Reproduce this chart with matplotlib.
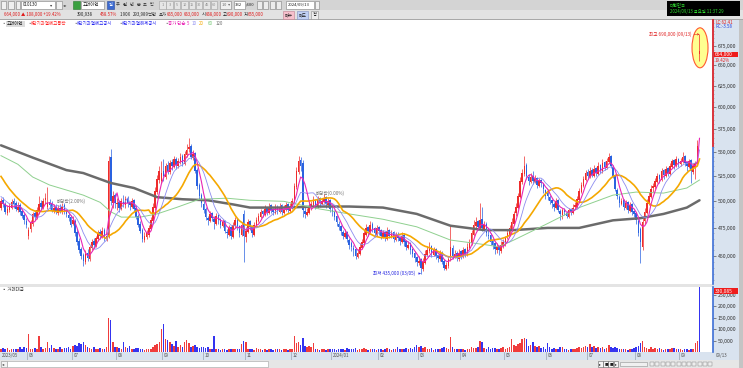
import numpy as np
import pandas as pd
import matplotlib
matplotlib.use("Agg")
import matplotlib.pyplot as plt
from matplotlib.patches import Rectangle, Ellipse
from matplotlib.ticker import FixedLocator, NullFormatter, FuncFormatter
from matplotlib.transforms import IdentityTransform

plt.rcParams['font.family'] = ['Noto Sans CJK KR', 'DejaVu Sans']

W, H = 743, 368

# 고려아연 일봉 (가격 단위: 천원)
# 화면 시작 전 19일 종가 (이동평균 계산용)
pre_close = [560, 558, 552, 555, 548, 545, 540, 536, 530, 522,
             515, 512, 508, 510, 505, 502, 498, 500, 496]

opens = [
    # 2023/05
    494, 501, 497, 489, 492, 494, 500, 498, 492, 496, 491, 487, 481,
    # 06
    468, 474, 479, 489, 484, 490, 498, 494, 501, 495, 499, 497, 491, 495, 489, 494, 490, 496, 491, 487, 485,
    # 07
    479, 481, 471, 463, 456, 451, 445, 453, 447, 457, 463, 459, 465, 471, 467, 473, 465, 468, 545, 498, 506,
    # 08
    497, 499, 493, 499, 496, 503, 499, 495, 501, 494, 486, 479, 473, 464, 467, 469, 474, 481, 494, 509, 521, 520,
    # 09
    530, 524, 536, 529, 539, 534, 543, 535, 539, 546, 537, 547, 553, 556, 544, 549, 531, 516, 506,
    # 10
    497, 493, 484, 481, 489, 483, 479, 487, 483, 477, 481, 471, 469, 476, 467, 477, 483, 477, 469, 488,
    # 11
    467, 471, 481, 477, 469, 477, 481, 485, 491, 487, 494, 489, 496, 493, 489, 495, 490, 496, 489, 492, 497, 491,
    # 12
    494, 499, 514, 529, 541, 538, 491, 487, 489, 494, 496, 501, 495, 503, 497, 499, 504, 496, 501,
    # 2024/01
    492, 491, 486, 479, 477, 471, 467, 471, 464, 461, 457, 456, 449, 452, 457, 461, 469, 476, 471, 479, 475, 469,
    # 02
    476, 473, 467, 471, 465, 473, 467, 471, 464, 469, 467, 462, 469, 463, 457, 461, 456, 453, 449,
    # 03
    444, 447, 439, 444, 451, 454, 459, 451, 456, 451, 447, 453, 446, 439, 441, 448, 457, 449, 453, 447,
    # 04
    454, 449, 456, 451, 457, 461, 469, 477, 481, 475, 483, 474, 479, 469, 469, 463, 461, 455, 459, 454, 459,
    # 05
    461, 467, 469, 474, 479, 489, 494, 504, 519, 527, 536, 524, 519, 525, 519, 523, 515, 521, 517, 511,
    # 06
    508, 504, 501, 497, 494, 501, 491, 487, 493, 489, 485, 493, 489, 495, 495, 501, 509, 515, 521,
    # 07
    529, 524, 531, 525, 533, 527, 536, 529, 539, 533, 539, 546, 534, 526, 511, 504, 497, 501, 494, 499, 491, 497, 491,
    # 08
    489, 481, 474, 458, 481, 489, 497, 504, 513, 514, 519, 526, 521, 531, 525, 533, 527, 534, 541, 535, 543,
    # 09
    537, 539, 546, 539, 534, 541, 529, 534, 537, 668,
]

highs = [
    503, 504, 499, 496, 498, 502, 503, 500, 499, 498, 493, 489, 484,
    476, 482, 490, 492, 495, 505, 501, 503, 508, 514, 502, 500, 497, 497, 496, 497, 498, 498, 493, 490, 487,
    486, 483, 474, 466, 458, 453, 455, 456, 460, 465, 466, 468, 473, 474, 476, 475, 471, 546, 553, 510, 508,
    503, 501, 503, 506, 505, 505, 500, 503, 502, 496, 488, 481, 475, 471, 473, 478, 485, 498, 514, 526, 535, 540,
    542, 538, 540, 541, 542, 546, 545, 544, 549, 548, 551, 558, 565, 558, 552, 550, 533, 518, 508,
    500, 495, 486, 491, 490, 486, 489, 488, 484, 483, 482, 474, 478, 477, 480, 485, 484, 478, 480, 492,
    476, 483, 482, 478, 480, 485, 489, 493, 492, 496, 495, 498, 497, 494, 497, 496, 498, 497, 496, 499, 498, 498,
    503, 518, 534, 546, 545, 541, 495, 494, 499, 500, 505, 502, 505, 504, 503, 507, 505, 503, 502,
    495, 492, 487, 481, 478, 473, 474, 472, 466, 463, 460, 457, 456, 461, 465, 473, 479, 477, 481, 480, 476, 478,
    477, 474, 473, 472, 476, 474, 473, 472, 471, 471, 468, 471, 470, 464, 463, 462, 457, 454, 450,
    450, 448, 448, 455, 459, 462, 460, 458, 457, 452, 455, 454, 447, 445, 450, 478, 460, 455, 454, 456,
    455, 458, 457, 461, 465, 473, 482, 485, 482, 498, 495, 481, 480, 473, 470, 464, 462, 461, 460, 463, 465,
    468, 473, 478, 484, 491, 498, 508, 524, 532, 546, 538, 527, 528, 530, 526, 524, 523, 522, 518, 512,
    512, 506, 502, 499, 503, 502, 493, 494, 494, 491, 494, 494, 497, 499, 505, 513, 519, 525, 531,
    532, 534, 533, 536, 534, 539, 537, 542, 540, 544, 549, 547, 536, 527, 513, 506, 503, 502, 501, 500, 499, 498, 492,
    490, 483, 476, 484, 494, 502, 509, 516, 518, 523, 528, 527, 533, 532, 535, 534, 538, 543, 542, 546, 544,
    544, 550, 547, 540, 543, 542, 538, 540, 563, 690,
]

lows = [
    492, 495, 488, 487, 490, 493, 494, 491, 490, 487, 484, 479, 475,
    465, 471, 477, 482, 483, 488, 492, 493, 497, 493, 493, 490, 489, 488, 487, 489, 488, 488, 485, 481, 476,
    478, 468, 460, 453, 447, 441, 443, 446, 446, 455, 457, 458, 463, 465, 466, 463, 463, 466, 496, 494, 494,
    492, 490, 492, 495, 494, 495, 492, 494, 491, 483, 476, 470, 462, 462, 465, 467, 473, 480, 492, 507, 518, 518,
    520, 522, 527, 527, 531, 533, 532, 533, 537, 535, 536, 545, 550, 542, 541, 528, 512, 502, 495,
    489, 482, 478, 480, 481, 474, 478, 479, 475, 476, 470, 466, 468, 465, 466, 475, 473, 467, 468, 445,
    462, 470, 473, 467, 468, 476, 480, 484, 485, 486, 487, 488, 489, 487, 488, 488, 489, 487, 488, 491, 489, 490,
    493, 498, 512, 527, 530, 485, 484, 486, 488, 492, 495, 493, 494, 495, 496, 498, 494, 495, 490,
    486, 482, 477, 473, 469, 465, 466, 462, 456, 454, 450, 447, 448, 451, 456, 460, 468, 468, 470, 471, 467, 468,
    469, 465, 466, 463, 464, 466, 466, 462, 463, 463, 460, 461, 459, 455, 456, 452, 449, 445, 441,
    442, 435, 437, 443, 450, 453, 449, 450, 447, 445, 446, 443, 438, 438, 440, 446, 447, 448, 446, 446,
    447, 448, 449, 450, 456, 460, 468, 475, 473, 474, 472, 473, 468, 465, 460, 456, 452, 453, 451, 453, 457,
    459, 465, 468, 472, 478, 486, 493, 503, 517, 525, 522, 516, 518, 517, 518, 513, 514, 514, 508, 502,
    501, 497, 494, 491, 493, 490, 482, 483, 487, 484, 484, 487, 488, 493, 494, 500, 508, 514, 520,
    522, 523, 524, 524, 525, 526, 528, 528, 531, 532, 538, 533, 523, 510, 502, 495, 496, 492, 493, 489, 490, 487, 485,
    479, 468, 444, 455, 479, 488, 496, 503, 509, 512, 518, 518, 520, 522, 524, 525, 526, 533, 532, 534, 534,
    535, 538, 535, 530, 533, 518, 527, 522, 535, 655,
]

closes = [
    500, 497, 490, 493, 495, 499, 497, 493, 495, 490, 486, 482, 478,
    473, 480, 488, 485, 492, 497, 495, 500, 503, 498, 496, 492, 494, 490, 493, 491, 495, 490, 488, 484, 478,
    482, 470, 462, 455, 450, 446, 452, 448, 458, 462, 460, 466, 470, 468, 472, 466, 468, 540, 500, 505, 498,
    498, 494, 500, 497, 502, 498, 496, 500, 493, 485, 478, 472, 465, 468, 470, 475, 482, 495, 510, 522, 530, 528,
    525, 535, 530, 538, 535, 542, 536, 540, 545, 538, 548, 552, 555, 545, 548, 530, 515, 505, 498,
    492, 485, 482, 488, 484, 480, 486, 482, 478, 480, 472, 470, 475, 468, 478, 482, 476, 470, 478, 468,
    472, 480, 476, 470, 478, 482, 486, 490, 488, 493, 490, 495, 492, 490, 494, 491, 495, 490, 493, 496, 492, 495,
    500, 515, 530, 540, 535, 492, 488, 490, 495, 497, 500, 496, 502, 498, 500, 503, 497, 500, 493,
    490, 485, 480, 476, 472, 468, 470, 465, 460, 458, 455, 450, 453, 458, 462, 470, 475, 472, 478, 474, 470, 475,
    472, 468, 470, 466, 472, 468, 470, 465, 468, 466, 463, 468, 462, 458, 460, 455, 452, 448, 445,
    446, 440, 445, 452, 455, 458, 452, 455, 450, 448, 452, 445, 440, 442, 447, 458, 450, 452, 448, 453,
    450, 455, 452, 458, 462, 470, 478, 480, 476, 482, 475, 478, 470, 468, 462, 460, 456, 458, 455, 460, 462,
    466, 470, 475, 480, 488, 495, 505, 520, 528, 535, 525, 520, 524, 520, 522, 516, 520, 518, 512, 505,
    505, 500, 498, 495, 500, 492, 488, 492, 490, 486, 492, 490, 494, 496, 502, 510, 516, 522, 528,
    525, 530, 526, 532, 528, 535, 530, 538, 534, 540, 545, 535, 525, 512, 505, 498, 500, 495, 498, 492, 496, 490, 488,
    482, 470, 462, 480, 490, 498, 505, 512, 515, 520, 525, 522, 530, 526, 532, 528, 535, 540, 536, 542, 538,
    540, 545, 538, 535, 540, 530, 535, 538, 556, 664,
]

# 거래대금 (단위: 천 백만원)
volume = [
    14, 18, 12, 16, 10, 12, 15, 11, 13, 20, 12, 22, 18,
    80, 15, 12, 18, 14, 68, 20, 14, 16, 42, 18, 30, 16, 12, 14, 20, 12, 16, 18, 22, 15,
    25, 30, 28, 40, 35, 45, 30, 20, 18, 15, 22, 14, 12, 18, 15, 12, 20, 150, 140, 45, 22,
    20, 18, 15, 45, 22, 18, 25, 14, 12, 16, 18, 14, 12, 10, 12, 15, 14, 20, 30, 35, 45, 100,
    124, 55, 52, 45, 35, 25, 48, 20, 30, 20, 45, 52, 38, 22, 25, 30, 20, 18, 22,
    20, 18, 22, 15, 12, 68, 15, 12, 10, 12, 14, 10, 12, 13, 14, 12, 15, 12, 35, 50,
    45, 15, 12, 14, 10, 16, 12, 14, 10, 12, 9, 15, 12, 10, 13, 11, 12, 10, 14, 12, 10, 13,
    15, 70, 40, 42, 30, 60, 25, 22, 28, 20, 40, 15, 12, 10, 12, 14, 10, 12, 15,
    12, 14, 10, 15, 12, 13, 10, 16, 14, 12, 15, 18, 10, 12, 14, 16, 12, 10, 14, 11, 12, 10,
    12, 15, 10, 14, 18, 12, 10, 15, 12, 20, 14, 11, 13, 16, 12, 18, 14, 20, 30,
    22, 25, 18, 20, 14, 12, 16, 10, 14, 12, 15, 18, 20, 16, 14, 64, 22, 14, 12, 15,
    12, 14, 10, 12, 15, 20, 18, 16, 22, 48, 44, 18, 15, 20, 14, 18, 16, 12, 14, 18, 20,
    15, 18, 20, 56, 30, 25, 35, 40, 55, 60, 58, 25, 30, 45, 25, 20, 28, 18, 22, 15,
    38, 20, 15, 18, 12, 15, 20, 22, 14, 12, 10, 14, 12, 15, 18, 20, 16, 22, 25,
    20, 35, 22, 28, 18, 24, 16, 20, 14, 18, 30, 20, 18, 22, 16, 14, 12, 15, 12, 10, 14, 12, 16,
    20, 25, 40, 48, 22, 18, 15, 20, 12, 16, 14, 18, 12, 10, 15, 12, 14, 16, 18, 12, 14,
    12, 10, 14, 12, 10, 15, 12, 38, 50, 330.085,
]

month_start = [0, 13, 34, 55, 77, 96, 116, 138, 157, 179, 198, 218, 239, 259, 278, 301, 322]
month_label = ["2023/05", "06", "07", "08", "09", "10", "11", "12", "2024/01",
               "02", "03", "04", "05", "06", "07", "08", "09"]

# 60일, 120일 이동평균 (화면에서 읽은 값)
ma60_at = [0, 8, 15, 23, 31, 39, 47, 52, 57, 66, 74, 83, 94, 107, 118, 134, 150,
           165, 181, 197, 213, 229, 236, 243, 259, 274, 290, 301, 314, 325, 331]
ma60 = [546, 537, 524, 516, 511, 506, 499, 490, 485, 485, 488, 494, 502, 503, 501, 500, 493,
        488, 483, 476, 464, 460, 458, 464, 479, 494, 506, 509, 508, 513, 521]
ma120_at = [0, 15, 31, 39, 52, 63, 74, 86, 98, 110, 118, 134, 150, 165, 181, 197, 213,
            229, 243, 259, 274, 290, 303, 314, 325, 331]
ma120 = [557, 544, 531, 528, 518, 513, 504, 502, 501, 497, 494, 494, 495, 495, 494, 488, 477,
         473, 473, 475, 475, 482, 484, 488, 494, 501]

UP, DN = '#ee2c2c', '#2a62e0'
VUP, VDN = '#f03c3c', '#3434f0'
PANEL = '#d9e3ef'


def box(x0, y0, x1, y1):
    return [x0 / W, 1 - y1 / H, (x1 - x0) / W, (y1 - y0) / H]


def rect(x0, y0, x1, y1, fc, ec='none', lw=0.5, z=-1):
    fig.add_artist(Rectangle((x0 / W, 1 - y1 / H), (x1 - x0) / W, (y1 - y0) / H,
                             transform=fig.transFigure, fc=fc, ec=ec, lw=lw, zorder=z))


def txt(x, y, s, size=3.5, color='#202020', ha='left', **kw):
    fig.text(x / W, 1 - y / H, s, fontsize=size, color=color, ha=ha, va='center', **kw)


def won(v, pos=None):
    return f"{int(round(v * 1000)):,}"


fig = plt.figure(figsize=(W / 100, H / 100), dpi=100)
fig.patch.set_facecolor('white')

o, hi, lo, c = (np.array(a, dtype=float) for a in (opens, highs, lows, closes))
n = len(c)
x = np.arange(n)
up = c >= o
col = np.where(up, UP, DN).astype(object)
col[-1] = UP  # 최고가 강조 봉
XL = (-0.47, 337.4)

# ---- 가격 패널 ----
ax = fig.add_axes(box(0, 20, 713, 284))
ax.set_yscale('log')
ax.set_xlim(*XL)
ax.set_ylim(426.3, 709.3)
ax.vlines(x, lo, hi, colors=col, lw=0.5, zorder=3)
ax.bar(x, np.maximum(np.abs(c - o), 0.8), bottom=np.minimum(o, c), width=0.75,
       color=col, lw=0, zorder=4)

s = pd.Series(pre_close + closes, dtype=float)
k = len(pre_close)
ax.plot(ma120_at, ma120, color='#6b6b6b', lw=1.8, zorder=5, solid_capstyle='round')
ax.plot(ma60_at, ma60, color='#8fd08f', lw=0.7, zorder=5)
ax.plot(x, s.rolling(20).mean().values[k:], color='#f5a800', lw=1.2, zorder=6)
ax.plot(x, s.rolling(10).mean().values[k:], color='#8c8cf0', lw=0.6, zorder=6)
ax.plot(x, s.rolling(5).mean().values[k:], color='#e925b5', lw=0.8, zorder=7)

ax.yaxis.tick_right()
ax.yaxis.set_major_locator(FixedLocator(list(range(450, 700, 25))))
ax.yaxis.set_major_formatter(FuncFormatter(won))
ax.yaxis.set_minor_locator(FixedLocator(list(range(430, 710, 5))))
ax.yaxis.set_minor_formatter(NullFormatter())
ax.tick_params(axis='y', which='major', length=2, width=0.5, pad=1.5,
               labelsize=3.7, colors='#555555', labelcolor='#303030')
ax.tick_params(axis='y', which='minor', length=1, width=0.4, colors='#888888')
ax.set_xticks([])
for sp in ('top', 'left', 'bottom'):
    ax.spines[sp].set_visible(False)
ax.spines['right'].set_color('#3d6fd6')
ax.spines['right'].set_linewidth(1.2)
ax.plot([XL[1], XL[1]], [c[-2], 709.3], color='#e83030', lw=1.3, clip_on=False, zorder=8)

# 최고 / 최저 / 배당락 표시
ax.annotate("최고 690,000 (09/13)", xy=(n - 1, hi[-1]), xytext=(-6, 0), textcoords='offset points',
            ha='right', va='center', fontsize=3.3, color='#e02020',
            arrowprops=dict(arrowstyle='->', color='#e02020', lw=0.4, shrinkA=0, shrinkB=0,
                            mutation_scale=3))
imin = int(np.argmin(lo))
ax.annotate("최저 435,000 (03/05)", xy=(imin, lo[imin]), xytext=(-4, 0), textcoords='offset points',
            ha='right', va='center', fontsize=3.3, color='#2020e0',
            arrowprops=dict(arrowstyle='->', color='#2020e0', lw=0.4, shrinkA=0, shrinkB=0,
                            mutation_scale=3))
ax.text(156, 508, "배당락(0.00%)", fontsize=3.3, color='#707070', ha='center', va='center', zorder=9)
ax.text(33, 500, "배당락(2.00%)", fontsize=3.3, color='#707070', ha='center', va='center', zorder=9)

fig.canvas.draw()
cx, cy = ax.transData.transform((n - 1 + 0.25, np.sqrt(lo[-1] * hi[-1])))
ax.add_patch(Ellipse((cx, cy), 16, 40, transform=IdentityTransform(), fc='#ffff90',
                     ec='#ff5a30', lw=0.8, zorder=2))

# ---- 거래대금 패널 ----
rect(0, 284, 713, 287, '#e4e4e4')
av = fig.add_axes(box(0, 287, 713, 352))
av.set_xlim(*XL)
av.set_ylim(0, 285)
av.bar(x, volume, width=0.72, color=np.where(up, VUP, VDN), lw=0)
av.yaxis.tick_right()
av.yaxis.set_major_locator(FixedLocator([50, 100, 150, 200, 250]))
av.yaxis.set_major_formatter(FuncFormatter(won))
av.tick_params(axis='y', length=2, width=0.5, pad=1.5, labelsize=3.7,
               colors='#555555', labelcolor='#303030')
av.set_xticks([])
for sp in ('top', 'left', 'bottom'):
    av.spines[sp].set_visible(False)
av.spines['right'].set_color('#3d6fd6')
av.spines['right'].set_linewidth(1.2)
txt(2, 289.5, "▪ 거래대금", size=3.2, color='#404040')

# ---- 날짜 축 ----
ad = fig.add_axes(box(0, 352, 713, 359.5))
ad.set_xlim(*XL)
ad.set_ylim(0, 1)
ad.axis('off')
for st, lab in zip(month_start, month_label):
    if st > 0:
        ad.axvline(st - 0.5, color='#9aa4b4', lw=0.5)
    ad.text(st - 0.5 + 0.8, 0.5, lab, fontsize=3.2, color='#505050', ha='left', va='center')

# ---- 배경 패널 ----
rect(0, 352, 739, 359.5, PANEL)
rect(0, 351.8, 739, 352.3, '#b0b8c8', z=-0.5)
rect(713, 20, 739, 359.5, PANEL)
rect(739, 20, 743, 368, '#c4c4c4')
txt(716, 355.7, "09/13", size=3.2, color='#505050')

# 우측 정보
txt(715, 22.5, "LC:62.41", size=3.2, color='#e02020')
txt(715, 27, "RC:-3.58", size=3.2, color='#2040e0')
rect(713.5, 51.8, 738, 57.3, '#ee1c1c', z=3)
txt(715, 54.6, won(c[-1]), size=3.5, color='white', zorder=4)
txt(715, 60.5, "19.42%", size=3.2, color='#e02020')
rect(713.5, 288.3, 738, 293.8, '#ee1c1c', z=3)
txt(715, 291.1, f"{volume[-1] * 1000:,.0f}", size=3.5, color='white', zorder=4)

# ---- 스크롤바 ----
rect(0, 359.5, 739, 368, '#e6e6e6')
rect(0.5, 360.5, 7, 367, '#f4f4f4', ec='#909090', lw=0.4)
txt(2, 363.8, "◂", size=3.2, color='#404040')
rect(7.5, 360.5, 268, 367, 'white', ec='#a0a0a0', lw=0.4)
for i, g in enumerate(["▸", "■", "■", "▸"]):
    rect(598 + i * 5.2, 361, 602.5 + i * 5.2, 366.5, '#f4f4f4', ec='#606060', lw=0.4)
    txt(599 + i * 5.2, 363.8, g, size=2.6, color='#202020')
rect(620, 362, 647, 365.5, '#f0f0f0', ec='#909090', lw=0.4)
for i in range(12):
    rect(650 + i * 5.3, 361.5, 654 + i * 5.3, 366, '#eeeeee', ec='#8a8a8a', lw=0.35)

# ---- 상단 툴바 ----
rect(0, 0, 743, 10, '#d4d4d4')
rect(0, 10, 743, 19.5, '#e2e2e2')
rect(0, 19.5, 743, 20, '#a8a8a8')
rect(1, 1.5, 6, 8.5, '#f0f0f0', ec='#808080', lw=0.4)
rect(8, 1.5, 14, 8.5, '#f0f0f0', ec='#808080', lw=0.4)
rect(16, 1.5, 20, 8.5, '#f0f0f0', ec='#808080', lw=0.4)
rect(21, 1.5, 55, 8.5, 'white', ec='#808080', lw=0.4)
txt(23, 5, "010130", size=3.2)
txt(50, 5, "▾", size=3.2, color='#404040')
rect(56, 1.5, 62, 8.5, '#f0f0f0', ec='#808080', lw=0.4)
txt(63, 5, "◂▸", size=3.2, color='#404040')
rect(73, 1.5, 80, 8.5, '#3aa040', ec='#2a7a30', lw=0.4)
rect(81, 1.5, 104, 8.5, 'white', ec='#808080', lw=0.4)
txt(83, 5, "고려아연", size=3.2)
rect(107, 1.5, 114, 8.5, '#3c6ad0', ec='#2a4a9a', lw=0.4)
txt(110.5, 5, "일", size=3.0, color='white', ha='center')
for i, g in enumerate(["주", "월", "년", "분", "초", "틱"]):
    txt(118 + i * 6.8, 5, g, size=3.0, color='#303030', ha='center')
for i, g in enumerate(["1", "3", "5", "10", "15", "30", "45", "60"]):
    rect(159 + i * 7.4, 1.5, 165.5 + i * 7.4, 8.5, '#e6e6e6', ec='#a0a0a0', lw=0.4)
    txt(162.3 + i * 7.4, 5, g, size=2.8, color='#8a8a8a', ha='center')
rect(220, 1.5, 231, 8.5, '#f0f0f0', ec='#808080', lw=0.4)
txt(222, 5, "10  ▾", size=2.8, color='#606060')
rect(234, 1.5, 245, 8.5, 'white', ec='#808080', lw=0.4)
txt(235, 5, "332", size=3.0)
txt(245.5, 5, "/600", size=3.0)
for i in range(4):
    rect(257 + i * 6.3, 1.5, 262 + i * 6.3, 8.5, '#ececec', ec='#808080', lw=0.4)
rect(286, 1.5, 314, 8.5, 'white', ec='#808080', lw=0.4)
txt(288, 5, "2024/09/13", size=3.0)
rect(314.5, 1.5, 319, 8.5, '#f0f0f0', ec='#808080', lw=0.4)

rect(667, 1.5, 740, 15.5, 'black', z=-0.5)
txt(670, 5.2, "대한민국", size=3.1, color='#30e030')
txt(670, 11.5, "2024/09/13 금요일 11:37:29", size=3.1, color='#30e030')

R = '#e01818'
TS = 3.1
txt(4, 14.6, "664,000 ▲ 108,000 +19.42%", size=TS, color=R)
txt(77, 14.6, "390,938", size=TS)
txt(100, 14.6, "458.57%", size=TS, color=R)
txt(119.5, 14.6, "1.90X", size=TS)
txt(132.5, 14.6, "293,989백만", size=TS)
txt(158.5, 14.6, "호가", size=TS)
txt(166.5, 14.6, "665,000", size=TS, color=R)
txt(184, 14.6, "663,000", size=TS, color=R)
txt(201.5, 14.6, "시", size=TS)
txt(205.5, 14.6, "668,000", size=TS, color=R)
txt(222.5, 14.6, "고", size=TS)
txt(226.5, 14.6, "690,000", size=TS, color=R)
txt(243.5, 14.6, "저", size=TS)
txt(247.5, 14.6, "655,000", size=TS, color=R)
rect(283, 11, 294, 18.5, '#f6c0cc', ec='#c08090', lw=0.4)
txt(288.5, 14.6, "매수", size=3.1, ha='center')
rect(297, 11, 308, 18.5, '#c0d0f4', ec='#8090c0', lw=0.4)
txt(302.5, 14.6, "매도", size=3.1, ha='center')
rect(311, 11, 318, 18.5, '#eeeeee', ec='#909090', lw=0.4)
txt(314.5, 14.6, "정", size=3.1, ha='center')

# ---- 범례 줄 ----
LY = 23.8
rect(6, 21, 25, 26.6, '#dcdcdc', z=1)
txt(1.5, LY, "▪", size=3.2, color='#808080')
txt(7, LY, "고려아연", size=3.2, color='#202020')
for xx, lab, cc in [(27, "#단기과열예고등락", '#ff2020'),
                    (73, "#단기과열예고공시", '#2828f0'),
                    (118, "#단기과열해제공시", '#2828f0')]:
    txt(xx, LY, "▪", size=3.2, color='#808080')
    txt(xx + 4, LY, lab, size=3.2, color=cc)
txt(164, LY, "▪", size=3.2, color='#808080')
txt(168, LY, "종가 단순", size=3.2, color='#e925b5')
txt(187, LY, "5", size=3.2, color='#e925b5')
txt(192, LY, "10", size=3.2, color='#8c8cf0')
txt(199, LY, "20", size=3.2, color='#f5a800')
txt(207.5, LY, "60", size=3.2, color='#6cc46c')
txt(215.5, LY, "120", size=3.2, color='#6b6b6b')

fig.savefig('out.png', dpi=100)
